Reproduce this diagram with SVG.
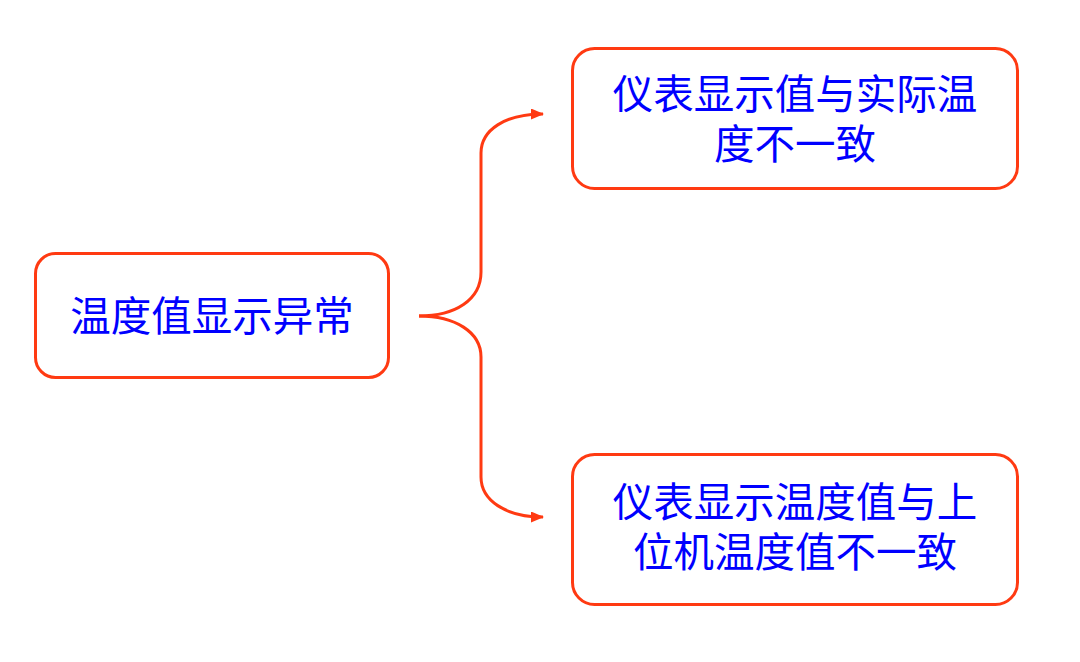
<svg xmlns="http://www.w3.org/2000/svg" width="1080" height="662" viewBox="0 0 1080 662">
<style>
.box{fill:#fff;stroke:#FF3A12;stroke-width:3}
.t{font-family:"Noto Sans CJK SC","Liberation Serif",serif;font-size:40.5px;fill:#0000FF;text-anchor:middle}
.c{fill:none;stroke:#FF3A12;stroke-width:3}
</style>
<defs>
<marker id="ah" markerWidth="13" markerHeight="11" refX="12" refY="5.5" orient="auto" markerUnits="userSpaceOnUse" viewBox="0 0 13 11">
<path d="M0,0 L13,5.5 L0,11 Z" fill="#FF3A12"/>
</marker>
</defs>
<rect width="1080" height="662" fill="#fff"/>
<g id="connectors">
<path class="c" d="M419,316 C455,316 481,300 481,272 L481,153 C481,130 505,114 543,114" marker-end="url(#ah)"/>
<path class="c" d="M419,316 C455,316 481,332 481,357 L481,477 C481,500 505,517 543,517" marker-end="url(#ah)"/>
</g>
<g id="root">
<rect class="box" x="35.5" y="253.5" width="353" height="124" rx="20"/>
<text class="t" x="212" y="331">温度值显示异常</text>
</g>
<g id="top">
<rect class="box" x="572.5" y="48.5" width="445" height="140" rx="22"/>
<text class="t" x="795" y="109">仪表显示值与实际温</text>
<text class="t" x="795" y="159">度不一致</text>
</g>
<g id="bottom">
<rect class="box" x="572.5" y="454.5" width="445" height="150" rx="22"/>
<text class="t" x="795" y="517">仪表显示温度值与上</text>
<text class="t" x="795" y="567">位机温度值不一致</text>
</g>
</svg>
